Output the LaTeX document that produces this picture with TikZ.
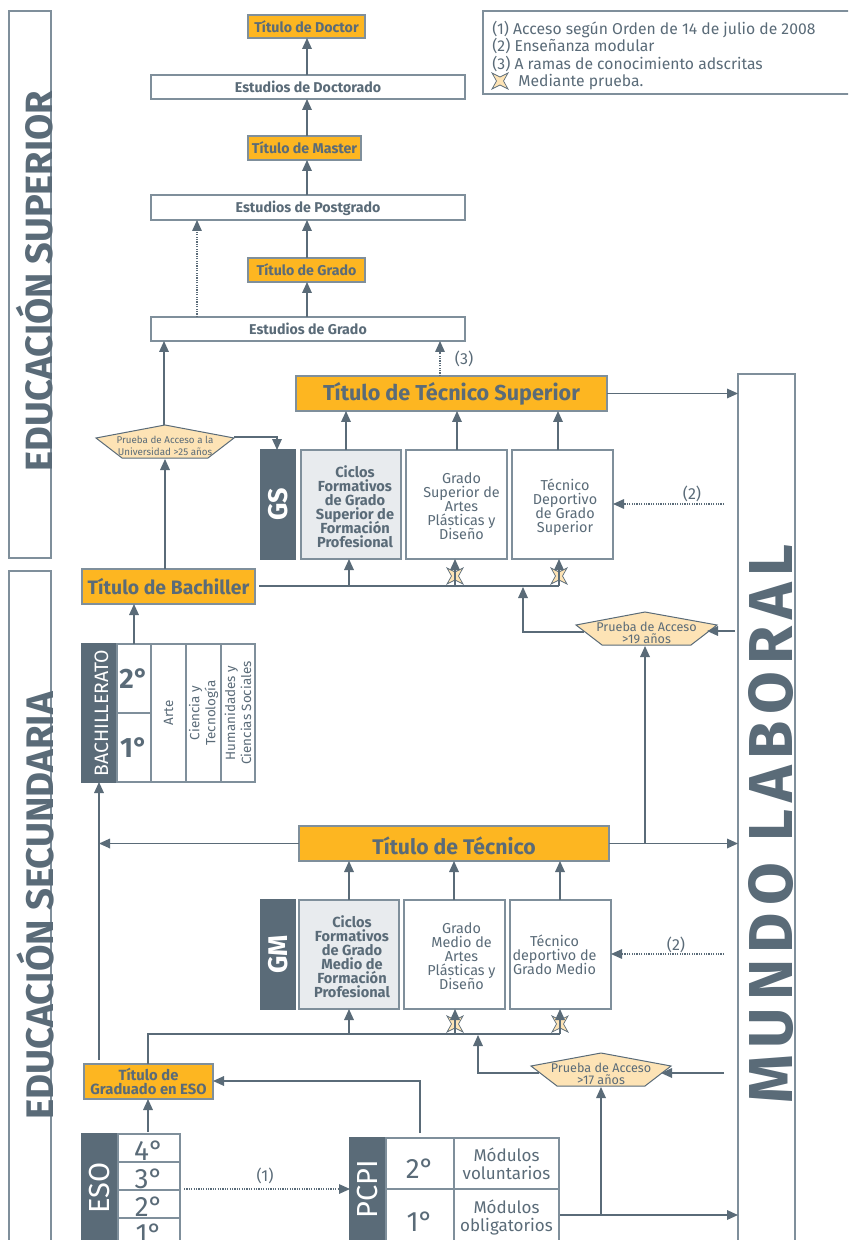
\documentclass[tikz,border=0pt]{standalone}
\usepackage{fontspec}
\setmainfont{Fira Sans}
\usetikzlibrary{arrows.meta,calc}
\definecolor{ink}{HTML}{5A6B78}
\definecolor{edge}{HTML}{7F8F9B}
\definecolor{gold}{HTML}{FDB621}
\definecolor{pale}{HTML}{FDE3B5}
\definecolor{mist}{HTML}{E8EBEE}
\newcommand{\fz}[2][7]{\fontsize{#2pt}{#1pt}\selectfont}
\newcommand{\pbx}[7][plain]{%
  \pgfmathsetmacro{\cxx}{(#3+#5)/2}\pgfmathsetmacro{\cyy}{(#4+#6)/2}%
  \pgfmathsetmacro{\wdd}{(#5-#3)*0.5}\pgfmathsetmacro{\htt}{(#6-#4)*0.5}%
  \node[plain,#1,minimum width=\wdd pt,minimum height=\htt pt] (#2) at (\cxx,\cyy) {#7};}
\newcommand{\tabb}[1]{\makebox[0pt]{\parbox[c]{120pt}{\centering\lineskiplimit=-20pt\relax #1\par}}}
\newcommand{\shf}[3]{\hspace*{#1pt}\raisebox{0pt}[\dimexpr\height+#2pt\relax][\depth]{\tabb{#3}}}
\newcommand{\pent}[7]{%
  \draw[pentline] (#2,#3) -- (#5,#3+13) -- (#5-26,#3+33) -- (#4+26,#3+33) -- (#4,#3+13) -- cycle;
  \pgfmathsetmacro{\cxx}{(#4+#5)/2}\pgfmathsetmacro{\wdd}{(#5-#4)*0.5}\pgfmathsetmacro{\cyy}{#3+21}%
  \node[inner sep=0,outer sep=0,minimum width=\wdd pt,minimum height=12pt,align=center,text=ink,font={\fz[5.8]{#6}}] (#1) at (\cxx,\cyy) {#7};}
\newcommand{\spark}[2]{\draw[sparkline] (#1-8,#2-8) -- (#1,#2-4) -- (#1+8,#2-8) -- (#1+3.5,#2) -- (#1+8,#2+8) -- (#1,#2+4) -- (#1-8,#2+8) -- (#1-3.5,#2) -- cycle;}
\tikzset{
 x=0.5pt,y=-0.5pt,
 plain/.style={draw=edge,line width=0.6pt,fill=white,inner sep=0,outer sep=0,align=center,text=ink},
 goldbox/.style={fill=gold},
 mistbox/.style={fill=mist},
 darkbox/.style={fill=ink,draw=ink,text=white},
 arr/.style={draw=ink,line width=0.7pt,-{Triangle[length=5.5pt,width=4.8pt]}},
 lin/.style={draw=ink,line width=0.7pt},
 dot/.style={draw=ink,line width=0.6pt,dash pattern=on 0.6pt off 0.6pt,-{Triangle[length=5.5pt,width=4.8pt]}},
 pentline/.style={draw=ink,line width=0.5pt,fill=pale},
 sparkline/.style={draw=ink,line width=0.35pt,fill=pale},
 lab/.style={inner sep=0,text=ink,font={\fz{8}}}
}
\begin{document}
\begin{tikzpicture}
\path[use as bounding box,clip] (0,0) rectangle (848,1240);
% side frames
\pbx{fsup}{9}{11}{51}{558}{}
\pbx{fsec}{9}{571}{51}{1260}{}
\pbx{fmun}{738}{374}{795}{1260}{}
\node[rotate=90,inner sep=0,text=ink,font={\fz{19}\bfseries}] (tsup) at (35,281) {EDUCACIÓN SUPERIOR};
\node[rotate=90,inner sep=0,text=ink,font={\fz{19.2}\bfseries}] (tsec) at (35,906) {EDUCACIÓN SECUNDARIA};
\node[rotate=90,inner sep=0,text=ink,font={\fz{31}\bfseries}] (tmun) at (771,824) {\addfontfeature{LetterSpace=11}MUNDO LABORAL};
% legend
\pbx{leg}{483}{11}{860}{94}{}
\node[anchor=north west,inner sep=0,text=ink,align=left,font={\fz[8.6]{7.85}}] (legt) at (492,21) {(1) Acceso según Orden de 14 de julio de 2008\\(2) Enseñanza modular\\(3) A ramas de conocimiento adscritas\\\hspace{13pt}Mediante prueba.};
\spark{500}{81}
% upper column
\pbx[goldbox,font={\fz{7.1}\bfseries}]{td}{248}{15}{365}{38}{Título de Doctor}
\pbx[font={\fz{7.1}\bfseries}]{ed}{151}{75}{465}{99}{Estudios de Doctorado}
\pbx[goldbox,font={\fz{7.1}\bfseries}]{tm}{248}{136}{361}{160}{Título de Master}
\pbx[font={\fz{7.1}\bfseries}]{ep}{151}{195}{465}{220}{\shf{0}{1}{Estudios de Postgrado}}
\pbx[goldbox,font={\fz{7.1}\bfseries}]{tg}{248}{258}{365}{282}{Título de Grado}
\pbx[font={\fz{7.1}\bfseries}]{eg}{151}{317}{465}{341}{Estudios de Grado}
\pbx[goldbox,font={\fz{10.8}\bfseries}]{tts}{296}{376}{607}{411}{Título de Técnico Superior}
% GS
\pbx[darkbox,font={\fz{13.5}\bfseries}]{gs}{261}{450}{295}{559}{\rotatebox{90}{GS}}
\pbx[mistbox,font={\fz{7.3}\bfseries}]{cs}{301}{450}{401}{559}{\shf{4}{2}{Ciclos\\Formativos\\de Grado\\Superior de\\Formación\\Profesional}}
\pbx[font={\fz{7.2}}]{gsa}{406}{450}{507}{559}{\shf{5}{2}{Grado\\Superior de\\Artes\\Plásticas y\\Diseño}}
\pbx[font={\fz{7.2}}]{tds}{512}{450}{613}{559}{\shf{2.5}{3}{Técnico\\Deportivo\\de Grado\\Superior}}
\pbx[goldbox,font={\fz{9.7}\bfseries}]{tb}{82}{569}{255}{604}{Título de Bachiller}
% bachillerato
\pbx[darkbox,font={\fz{9.7}}]{bq}{82}{644}{117}{782}{\hspace*{2pt}\rotatebox{90}{BACHILLERATO}}
\pbx[font={\fz{14}\bfseries}]{b2}{117}{644}{151}{713}{2°}
\pbx[font={\fz{14}\bfseries}]{b1}{117}{713}{151}{782}{1°}
\pbx[font={\fz[8]{6.7}}]{ba}{151}{644}{186}{782}{\rotatebox{90}{Arte}}
\pbx[font={\fz[8]{6.7}}]{bc}{186}{644}{221}{782}{\rotatebox{90}{\tabb{Ciencia y\\Tecnología}}}
\pbx[font={\fz[8]{6.7}}]{bh}{221}{644}{255}{782}{\rotatebox{90}{\tabb{Humanidades y\\Ciencias Sociales}}}
% GM
\pbx[goldbox,font={\fz{10.6}\bfseries}]{tt}{299}{826}{609}{861}{\shf{0}{2}{Título de Técnico}}
\pbx[darkbox,font={\fz{13.5}\bfseries}]{gm}{261}{900}{295}{1009}{\rotatebox{90}{GM}}
\pbx[mistbox,font={\fz{7.3}\bfseries}]{cm}{299}{900}{399}{1009}{\shf{3}{2}{Ciclos\\Formativos\\de Grado\\Medio de\\Formación\\Profesional}}
\pbx[font={\fz{7.2}}]{gma}{404}{900}{505}{1009}{\shf{7}{2}{Grado\\Medio de\\Artes\\Plásticas y\\Diseño}}
\pbx[font={\fz{7.2}}]{tdm}{510}{900}{611}{1009}{\shf{-6}{0}{Técnico\\deportivo de\\Grado Medio}}
\pbx[goldbox,font={\fz[7.2]{7.4}\bfseries}]{te}{84}{1064}{213}{1099}{Título de\\Graduado en ESO}
% ESO
\pbx[darkbox,font={\fz{14.5}}]{eq}{82}{1134}{118}{1242}{\rotatebox{90}{ESO}}
\pbx[font={\fz{14}}]{e4}{118}{1134}{180}{1162}{\shf{0}{3}{4°}}
\pbx[font={\fz{14}}]{e3}{118}{1162}{180}{1190}{\shf{0}{3}{3°}}
\pbx[font={\fz{14}}]{e2}{118}{1190}{180}{1218}{\shf{0}{3}{2°}}
\pbx[font={\fz{14}}]{e1}{118}{1218}{180}{1250}{1°}
% PCPI
\pbx[darkbox,font={\fz{14.5}}]{pq}{350}{1138}{386}{1240}{\rotatebox{90}{PCPI}}
\pbx[font={\fz{14}}]{p2}{386}{1138}{454}{1189}{\shf{0}{5}{2°}}
\pbx[font={\fz{14}}]{p1}{386}{1189}{454}{1255}{1°}
\pbx[font={\fz[9]{8.5}}]{mv}{454}{1138}{559}{1189}{Módulos\\voluntarios}
\pbx[font={\fz[9]{8.5}}]{mo}{454}{1189}{559}{1245}{\tabb{Módulos\\obligatorios}}
% pentagons
\pent{pu}{165}{425}{96}{234}{4.9}{Prueba de Acceso a la\\Universidad >25 años}
\pent{p19}{645}{612}{576}{717}{6.3}{Prueba de Acceso\\>19 años}
\pent{p17}{601}{1053}{531}{671}{6.3}{Prueba de Acceso\\>17 años}
% connectors, upper column
\draw[arr] (307,0 |- ed.north) -- (307,0 |- td.south);
\draw[arr] (307,0 |- tm.north) -- (307,0 |- ed.south);
\draw[arr] (307,0 |- ep.north) -- (307,0 |- tm.south);
\draw[arr] (307,0 |- tg.north) -- (307,0 |- ep.south);
\draw[arr] (307,0 |- eg.north) -- (307,0 |- tg.south);
\draw[dot] (197,0 |- eg.north) -- (197,0 |- ep.south);
\draw[dot] (440,0 |- tts.north) -- (440,0 |- eg.south);
\node[lab] (l3) at (464,359) {(3)};
\coordinate (puapex) at (164,425);
\draw[arr] (puapex) -- (164,0 |- eg.south);
\draw[arr] (165,0 |- tb.north) -- (165,459);
\coordinate (puright) at (234,437);
\draw[arr] (puright) -- (277,437) -- (277,0 |- gs.north);
\draw[arr] (tts.east) -- (tts.east -| fmun.west);
\draw[arr] (346,0 |- cs.north) -- (346,0 |- tts.south);
\draw[arr] (457,0 |- gsa.north) -- (457,0 |- tts.south);
\draw[arr] (558,0 |- tds.north) -- (558,0 |- tts.south);
\coordinate (d2a) at (724,504);
\draw[dot] (d2a) -- (d2a -| tds.east);
\node[lab] (l2a) at (692,494) {(2)};
% bachiller rail
\draw[lin] (259,586) -- (559,586);
\draw[arr] (349,586) -- (349,0 |- cs.south);
\spark{455}{576}\spark{559}{576}
\draw[arr] (455,586) -- (455,0 |- gsa.south);
\draw[arr] (559,586) -- (559,0 |- tds.south);
\coordinate (p19l) at (584,632);
\draw[arr] (p19l) -- (523,632) -- (523,587);
\coordinate (m19) at (735,631);
\draw[arr] (m19) -- (707,631);
\draw[arr] (645,843) -- (645,646);
\draw[arr] (134,0 |- bq.north) -- (134,0 |- tb.south);
% tecnico
\draw[arr] (tt.west) -- (99,0 |- tt.west);
\draw[arr] (tt.east) -- (tt.east -| fmun.west);
\coordinate (e99) at (99,1060);
\draw[arr] (e99) -- (99,0 |- bq.south);
\draw[arr] (349,0 |- cm.north) -- (349,0 |- tt.south);
\draw[arr] (454,0 |- gma.north) -- (454,0 |- tt.south);
\draw[arr] (560,0 |- tdm.north) -- (560,0 |- tt.south);
\coordinate (d2b) at (724,954);
\draw[dot] (d2b) -- (d2b -| tdm.east);
\node[lab] (l2b) at (676,945) {(2)};
% eso rail
\draw[lin] (148,0 |- te.north) -- (148,1034) -- (560,1034);
\draw[arr] (349,1034) -- (349,0 |- cm.south);
\spark{455}{1024}\spark{560}{1024}
\draw[arr] (455,1034) -- (455,0 |- gma.south);
\draw[arr] (560,1034) -- (560,0 |- tdm.south);
\coordinate (p17l) at (539,1073);
\draw[arr] (p17l) -- (478,1073) -- (478,1035);
\coordinate (m17) at (724,1073);
\draw[arr] (m17) -- (661,1073);
\draw[arr] (148,1132) -- (148,0 |- te.south);
\draw[arr] (420,1133) -- (420,1081) -- (te.east |- 0,1081);
\draw[dot] (184,1189) -- (pq.west |- 0,1189);
\node[lab] (l1) at (265,1176) {(1)};
\draw[arr] (560,1215) -- (fmun.west |- 0,1215);
\draw[arr] (601,1215) -- (601,1087);
\end{tikzpicture}
\end{document}
